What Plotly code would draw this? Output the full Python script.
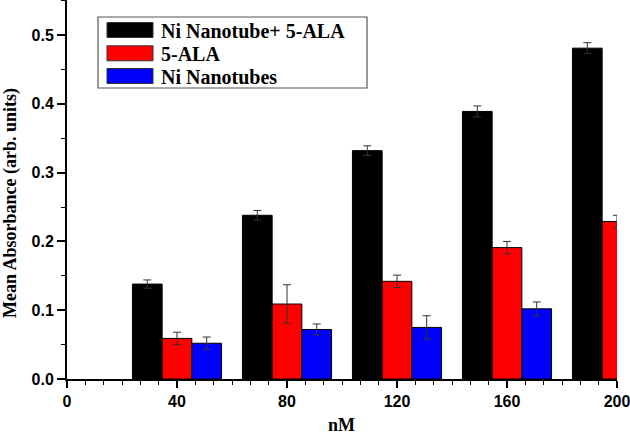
import plotly.graph_objects as go

# ---- data ----
concentrations = [40, 80, 120, 160, 200]
series_names = ["Ni Nanotube+ 5-ALA", "5-ALA", "Ni Nanotubes"]
ni_ala_vals = [0.138, 0.238, 0.332, 0.389, 0.481]
ni_ala_err = [0.006, 0.007, 0.007, 0.008, 0.008]
ala_vals = [0.059, 0.109, 0.142, 0.191, 0.229]
ala_err = [0.009, 0.028, 0.009, 0.009, 0.009]
ni_x = [40, 80, 120, 160]
ni_vals = [0.052, 0.072, 0.075, 0.102]
ni_err = [0.009, 0.008, 0.017, 0.010]
colors = ["#000000", "#ff0000", "#0000ff"]
y_ticks = [0.0, 0.1, 0.2, 0.3, 0.4, 0.5]
x_ticks = [0, 40, 80, 120, 160, 200]

W, H = 630, 435
ML, MR, MT, MB = 67, 13, 0, 56
PW = W - ML - MR
PH = H - MT - MB


def px(p):
    return (p - ML) / PW


def py(p):
    return 1 - (p - MT) / PH


fig = go.Figure()
data = [
    (concentrations, ni_ala_vals, ni_ala_err),
    (concentrations, ala_vals, ala_err),
    (ni_x, ni_vals, ni_err),
]
for name, col, (xs, ys, es) in zip(series_names, colors, data):
    fig.add_trace(go.Bar(
        x=xs, y=ys, name=name,
        marker=dict(color=col, line=dict(color="#000000", width=1)),
        error_y=dict(type="data", array=es, visible=True, color="#333333",
                     thickness=1, width=4),
        showlegend=False,
    ))

# custom legend (matching large swatches)
shapes = [dict(type="rect", xref="paper", yref="paper",
               x0=px(98), x1=px(367), y0=py(17), y1=py(88),
               line=dict(color="#555555", width=1.2), fillcolor="white", layer="above")]
annotations = []
row_y = [30, 53.3, 76]
for name, col, ry in zip(series_names, colors, row_y):
    shapes.append(dict(type="rect", xref="paper", yref="paper",
                       x0=px(107), x1=px(153), y0=py(ry - 7.5), y1=py(ry + 7.5),
                       line=dict(color="#333333", width=1), fillcolor=col, layer="above"))
    annotations.append(dict(xref="paper", yref="paper", x=px(159), y=py(ry + 1),
                            xanchor="left", yanchor="middle", showarrow=False,
                            text=name,
                            font=dict(family="Liberation Serif", size=20,
                                      color="black", weight="bold")))

annotations.append(dict(xref="paper", yref="paper", x=px(10), y=py(203),
                        xanchor="center", yanchor="middle", showarrow=False,
                        textangle=-90, text="Mean Absorbance (arb. units)",
                        font=dict(family="Liberation Serif", size=18,
                                  color="black", weight="bold")))
annotations.append(dict(xref="paper", yref="paper", x=px(341), y=py(425),
                        xanchor="center", yanchor="middle", showarrow=False,
                        text="nM",
                        font=dict(family="Liberation Serif", size=18,
                                  color="black", weight="bold")))

tickfont = dict(family="Liberation Sans", size=16, color="black", weight="bold")

fig.update_layout(
    width=W, height=H,
    margin=dict(l=ML, r=MR, t=MT, b=MB),
    paper_bgcolor="white", plot_bgcolor="white",
    barmode="group", bargap=0.19, bargroupgap=0,
    shapes=shapes, annotations=annotations,
    xaxis=dict(range=[0, 200], tickvals=x_ticks, ticks="outside", ticklen=7,
               tickwidth=1.5, tickcolor="black", ticklabeloverflow="allow",
               minor=dict(dtick=40 / 6, tick0=0, ticks="outside", ticklen=4,
                          tickwidth=1.2, tickcolor="black", showgrid=False),
               showline=True, linewidth=2, linecolor="black",
               showgrid=False, zeroline=False, tickfont=tickfont),
    yaxis=dict(range=[0, 0.551], tickvals=y_ticks, tickformat=".1f",
               ticks="outside", ticklen=8, tickwidth=1.5, tickcolor="black",
               minor=dict(dtick=0.05, tick0=0, ticks="outside", ticklen=4,
                          tickwidth=1.2, tickcolor="black", showgrid=False),
               showline=True, linewidth=2, linecolor="black",
               showgrid=False, zeroline=False, tickfont=tickfont),
)

fig.write_html("out.html", config={"displayModeBar": False},
               post_script="document.body.style.margin='0';document.body.style.overflow='hidden';")
